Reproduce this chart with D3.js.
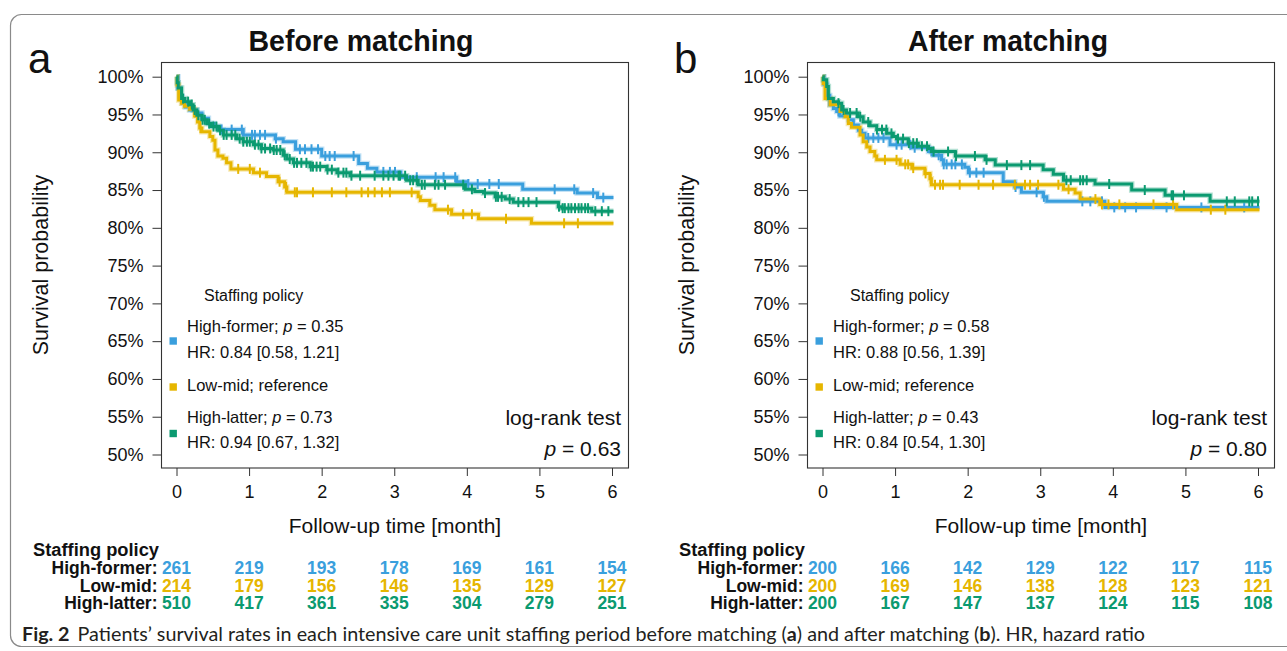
<!DOCTYPE html>
<html><head><meta charset="utf-8">
<script src="https://cdn.jsdelivr.net/npm/d3@7"></script>
<style>
body{margin:0;background:#fff;}
svg{display:block;}
text{font-family:"Liberation Sans",Arial,Helvetica,sans-serif;fill:#111;}
</style>
</head><body>
<svg id="c" width="1287" height="651"></svg>
<script>
// ---------- data ----------
const months = [0, 1, 2, 3, 4, 5, 6];
const yTicks = [50, 55, 60, 65, 70, 75, 80, 85, 90, 95, 100];
const groups = ["High-former", "Low-mid", "High-latter"];
const colors = ["#3a9fdd", "#e6b600", "#0b9a70"];

// Before matching: step points [time (month), survival %]
const beforeHighFormer = [[0,100],[0.02,98.5],[0.05,97.4],[0.08,96.5],[0.12,96.0],[0.18,95.6],[0.28,95.2],[0.35,94.5],[0.44,93.8],[0.52,93.4],[0.6,93.0],[0.92,92.3],[1.36,91.8],[1.47,91.4],[1.64,90.4],[2.0,89.5],[2.51,88.5],[2.63,87.9],[2.76,87.4],[3.09,86.7],[3.86,86.1],[4.0,85.8],[4.77,85.1],[5.52,84.6],[5.8,84.0],[6.02,84.0]];
const beforeHighFormerCensor = [0.62,0.76,0.90,1.04,1.08,1.15,1.22,1.37,1.70,1.77,1.86,1.95,2.05,2.11,2.18,2.44,2.85,2.94,3.01,3.31,3.57,3.68,3.84,4.02,4.15,4.31,4.44,5.21,5.48,5.74,5.88];
const beforeLowMid = [[0,100],[0.01,98.9],[0.03,96.9],[0.07,96.5],[0.11,96.1],[0.18,95.7],[0.25,94.8],[0.29,94.0],[0.32,93.2],[0.35,92.7],[0.46,92.1],[0.5,91.6],[0.53,90.3],[0.57,89.5],[0.64,89.2],[0.69,88.6],[0.75,87.8],[1.06,87.3],[1.24,86.8],[1.40,86.1],[1.49,85.4],[1.52,84.7],[3.33,84.1],[3.36,83.6],[3.49,83.0],[3.56,82.4],[3.79,81.8],[4.16,81.2],[4.89,80.6],[6.02,80.6]];
const beforeLowMidCensor = [0.33,0.85,1.01,1.15,1.42,1.51,1.63,1.66,1.88,2.14,2.34,2.55,2.64,2.73,2.83,2.94,3.24,3.74,3.95,4.07,4.54,5.34,5.53];
const beforeHighLatter = [[0,100],[0.01,99.2],[0.025,98.5],[0.07,97.1],[0.117,96.7],[0.186,96.3],[0.23,95.6],[0.28,94.9],[0.35,94.3],[0.42,93.8],[0.48,93.4],[0.58,92.9],[0.645,92.3],[0.83,91.8],[0.92,91.4],[1.06,91.0],[1.17,90.5],[1.33,90.3],[1.47,89.6],[1.52,89.1],[1.61,88.6],[1.84,88.1],[2.07,87.7],[2.21,87.3],[2.39,86.9],[3.17,86.3],[3.33,85.7],[3.98,85.1],[4.11,84.8],[4.23,84.6],[4.39,84.1],[4.53,83.8],[4.64,83.4],[5.26,82.8],[5.31,82.6],[5.72,82.2],[6.02,82.2]];
const beforeHighLatterCensor = [0.09,0.16,0.21,0.25,0.30,0.36,0.39,0.45,0.51,0.55,0.60,0.65,0.69,0.76,0.81,0.87,0.92,0.97,1.01,1.08,1.13,1.17,1.22,1.29,1.34,1.38,1.43,1.49,1.56,1.62,1.66,1.72,1.79,1.85,1.88,1.93,1.98,2.08,2.14,2.23,2.30,2.34,2.41,2.53,2.73,2.85,2.92,2.99,3.06,3.08,3.15,3.22,3.26,3.31,3.38,3.42,3.56,3.61,3.70,3.95,4.07,4.25,4.40,4.43,4.48,4.59,4.71,4.78,4.85,4.96,5.27,5.32,5.35,5.40,5.44,5.49,5.54,5.58,5.63,5.67,5.77,5.86,5.95];

// After matching
const afterHighFormer = [[0,100],[0.02,99.0],[0.06,97.5],[0.1,96.3],[0.15,95.8],[0.195,95.4],[0.24,94.8],[0.36,94.3],[0.425,93.6],[0.494,92.9],[0.54,92.5],[0.586,91.9],[0.93,91.0],[1.23,90.6],[1.46,90.1],[1.53,89.6],[1.64,89.0],[1.665,88.4],[1.96,88.0],[2.01,87.3],[2.49,86.1],[2.65,85.4],[2.74,84.7],[3.04,84.1],[3.09,83.5],[3.89,82.7],[6.02,82.7]];
const afterHighFormerCensor = [0.22,0.63,0.70,0.77,0.84,1.02,1.09,1.21,1.27,1.50,1.60,1.67,1.71,1.78,1.83,1.92,2.03,2.12,2.22,2.66,2.95,3.05,3.58,3.69,3.85,4.02,4.17,4.32,4.74,5.22,5.81];
const afterLowMid = [[0,100],[0.01,99.1],[0.035,97.1],[0.104,96.3],[0.24,95.4],[0.31,94.7],[0.356,93.8],[0.40,93.3],[0.517,92.3],[0.56,91.4],[0.61,90.7],[0.655,90.1],[0.72,89.5],[0.747,89.0],[1.07,88.4],[1.23,87.9],[1.41,87.2],[1.48,86.5],[1.50,85.7],[3.32,85.1],[3.48,84.6],[3.55,83.8],[3.82,83.1],[4.88,82.4],[6.02,82.4]];
const afterLowMidCensor = [0.86,1.02,1.14,1.18,1.25,1.42,1.49,1.55,1.62,1.66,1.89,2.15,2.35,2.65,2.79,2.86,2.97,3.25,3.39,3.76,3.85,3.94,4.09,4.56,4.83,5.35,5.55];
const afterHighLatter = [[0,100],[0.012,99.6],[0.058,98.7],[0.081,97.1],[0.15,96.7],[0.22,96.5],[0.264,95.6],[0.33,95.2],[0.49,94.7],[0.56,94.0],[0.655,93.5],[0.747,93.0],[0.885,92.5],[0.976,92.1],[1.02,91.8],[1.18,91.2],[1.32,90.8],[1.46,90.5],[1.50,90.1],[1.83,89.5],[2.24,89.0],[2.38,88.3],[3.04,87.7],[3.18,87.1],[3.32,86.3],[3.755,85.8],[4.26,85.0],[4.72,84.3],[5.34,83.5],[6.02,83.5]];
const afterHighLatterCensor = [0.22,0.29,0.38,0.47,0.52,0.63,0.75,0.82,0.88,0.95,1.04,1.11,1.19,1.25,1.30,1.37,1.44,1.53,1.73,1.84,2.10,2.26,2.54,2.74,2.86,3.36,3.42,3.55,3.59,3.64,3.95,4.44,4.81,4.83,4.98,5.57,5.68,5.88,5.92,6.0];

// Numbers at risk
const beforeRiskHighFormer = [261,219,193,178,169,161,154];
const beforeRiskLowMid = [214,179,156,146,135,129,127];
const beforeRiskHighLatter = [510,417,361,335,304,279,251];
const afterRiskHighFormer = [200,166,142,129,122,117,115];
const afterRiskLowMid = [200,169,146,138,128,123,121];
const afterRiskHighLatter = [200,167,147,137,124,115,108];

// Legend / stats text
const beforeLegend = [["High-former; ", "0.35", "HR: 0.84 [0.58, 1.21]"], ["Low-mid; reference"], ["High-latter; ", "0.73", "HR: 0.94 [0.67, 1.32]"]];
const afterLegend = [["High-former; ", "0.58", "HR: 0.88 [0.56, 1.39]"], ["Low-mid; reference"], ["High-latter; ", "0.43", "HR: 0.84 [0.54, 1.30]"]];
const beforeLogRankP = "0.63";
const afterLogRankP = "0.80";

// ---------- drawing ----------
const svg = d3.select("#c");
svg.append("rect").attr("x", 10.5).attr("y", 14.5).attr("width", 1300).attr("height", 632)
  .attr("rx", 11).attr("fill", "none").attr("stroke", "#8a8a8a").attr("stroke-width", 1.2);

function valueAt(steps, t) {
  let v = steps[0][1];
  for (const s of steps) { if (s[0] <= t) v = s[1]; else break; }
  return v;
}

function panel(dx, cfg) {
  const g = svg.append("g").attr("transform", `translate(${dx},0)`);
  const x = d3.scaleLinear().domain([0, 6]).range([176.5, 612]);
  const y = d3.scaleLinear().domain([50, 100]).range([454.5, 76.7]);

  // title & panel letter
  g.append("text").attr("x", cfg.titleX).attr("y", 51).attr("text-anchor", "middle")
    .attr("font-size", 29).attr("font-weight", "bold")
    .attr("textLength", cfg.titleW).attr("lengthAdjust", "spacingAndGlyphs").text(cfg.title);
  g.append("text").attr("x", 28).attr("y", 73).attr("font-size", 42).text(cfg.letter);

  // frame
  g.append("rect").attr("x", 161.5).attr("y", 62.5).attr("width", 467).attr("height", 405.5)
    .attr("fill", "none").attr("stroke", "#333").attr("stroke-width", 1.1);

  // axes
  const yAx = g.append("g").attr("transform", "translate(161.5,0)")
    .call(d3.axisLeft(y).tickValues(yTicks).tickSize(9).tickPadding(9).tickFormat(d => d + "%"));
  yAx.select(".domain").remove();
  yAx.attr("font-size", 18).attr("font-family", '"Liberation Sans",Arial,sans-serif');
  yAx.selectAll("line").attr("stroke", "#333");
  yAx.selectAll("text").attr("fill", "#111");

  const xAx = g.append("g").attr("transform", "translate(0,468)")
    .call(d3.axisBottom(x).tickValues(months).tickSize(8).tickPadding(9).tickFormat(d3.format("d")));
  xAx.select(".domain").remove();
  xAx.attr("font-size", 18).attr("font-family", '"Liberation Sans",Arial,sans-serif');
  xAx.selectAll("line").attr("stroke", "#333");
  xAx.selectAll("text").attr("fill", "#111");

  // axis titles
  g.append("text").attr("transform", "translate(48,265) rotate(-90)").attr("text-anchor", "middle")
    .attr("font-size", 21.5).text("Survival probability");
  g.append("text").attr("x", 395).attr("y", 533).attr("text-anchor", "middle")
    .attr("font-size", 21).text("Follow-up time [month]");

  // curves
  const line = d3.line().x(d => x(d[0])).y(d => y(d[1])).curve(d3.curveStepAfter);
  cfg.curves.forEach((c, i) => {
    g.append("path").attr("d", line(c.steps)).attr("fill", "none").attr("stroke", colors[i])
      .attr("stroke-width", 5.5).attr("stroke-opacity", 0.3);
  });
  cfg.curves.forEach((c, i) => {
    g.append("path").attr("d", line(c.steps)).attr("fill", "none").attr("stroke", colors[i])
      .attr("stroke-width", 3);
    g.selectAll(null).data(c.censor).enter().append("line")
      .attr("x1", d => x(d)).attr("x2", d => x(d))
      .attr("y1", d => y(valueAt(c.steps, d)) - 5).attr("y2", d => y(valueAt(c.steps, d)) + 5)
      .attr("stroke", colors[i]).attr("stroke-width", 2);
  });

  // legend
  const lg = g.append("g").attr("font-size", 16.5);
  lg.append("text").attr("x", 204).attr("y", 300.5).attr("font-size", 16).text("Staffing policy");
  const rowY = [[332.3, 357.7], [390.7], [423.3, 448.3]];
  const sqY = [341, 387, 433.5];
  cfg.legend.forEach((L, i) => {
    lg.append("rect").attr("x", 169.5).attr("y", sqY[i] - 3.7).attr("width", 7.4).attr("height", 7.4).attr("fill", colors[i]);
    if (L.length === 1) {
      lg.append("text").attr("x", 187).attr("y", rowY[i][0]).text(L[0]);
    } else {
      const t = lg.append("text").attr("x", 187).attr("y", rowY[i][0]);
      t.append("tspan").text(L[0]);
      t.append("tspan").attr("font-style", "italic").text("p");
      t.append("tspan").text(" = " + L[1]);
      lg.append("text").attr("x", 187).attr("y", rowY[i][1]).text(L[2]);
    }
  });
  g.append("text").attr("x", 621).attr("y", 425).attr("text-anchor", "end").attr("font-size", 21).text("log-rank test");
  const pt = g.append("text").attr("x", 621).attr("y", 456).attr("text-anchor", "end").attr("font-size", 21);
  pt.append("tspan").attr("font-style", "italic").text("p");
  pt.append("tspan").text(" = " + cfg.logRankP);

  // risk table
  const rt = g.append("g").attr("font-size", 17.5).attr("font-weight", "bold");
  rt.append("text").attr("x", 33).attr("y", 555.5).attr("textLength", 126)
    .attr("lengthAdjust", "spacingAndGlyphs").text("Staffing policy");
  const ry = [574, 591.5, 609];
  cfg.risk.forEach((arr, i) => {
    rt.append("text").attr("x", 157.5).attr("y", ry[i]).attr("text-anchor", "end").text(groups[i] + ":");
    rt.selectAll(null).data(arr).enter().append("text")
      .attr("x", (d, j) => x(months[j])).attr("y", ry[i]).attr("text-anchor", "middle")
      .attr("fill", colors[i]).style("fill", colors[i]).text(d => d);
  });
}

panel(0, {
  title: "Before matching", titleX: 361, titleW: 225, letter: "a",
  curves: [
    {steps: beforeHighFormer, censor: beforeHighFormerCensor},
    {steps: beforeLowMid, censor: beforeLowMidCensor},
    {steps: beforeHighLatter, censor: beforeHighLatterCensor}
  ],
  legend: beforeLegend, logRankP: beforeLogRankP,
  risk: [beforeRiskHighFormer, beforeRiskLowMid, beforeRiskHighLatter]
});
panel(646, {
  title: "After matching", titleX: 362, titleW: 200, letter: "b",
  curves: [
    {steps: afterHighFormer, censor: afterHighFormerCensor},
    {steps: afterLowMid, censor: afterLowMidCensor},
    {steps: afterHighLatter, censor: afterHighLatterCensor}
  ],
  legend: afterLegend, logRankP: afterLogRankP,
  risk: [afterRiskHighFormer, afterRiskLowMid, afterRiskHighLatter]
});

// caption
const cap = svg.append("text").attr("x", 22).attr("y", 641).attr("font-size", 17)
  .style("font-family", "Lato, 'Open Sans', sans-serif").style("fill", "#231f20");
cap.append("tspan").attr("font-weight", "bold").text("Fig. 2");
cap.append("tspan").attr("dx", 8).text("Patients’ survival rates in each intensive care unit staffing period before matching (");
cap.append("tspan").attr("font-weight", "bold").text("a");
cap.append("tspan").text(") and after matching (");
cap.append("tspan").attr("font-weight", "bold").text("b");
cap.append("tspan").text("). HR, hazard ratio");
const w = cap.node().getComputedTextLength();
if (w > 0) cap.attr("font-size", 17 * 1116 / w);
</script>
</body></html>
